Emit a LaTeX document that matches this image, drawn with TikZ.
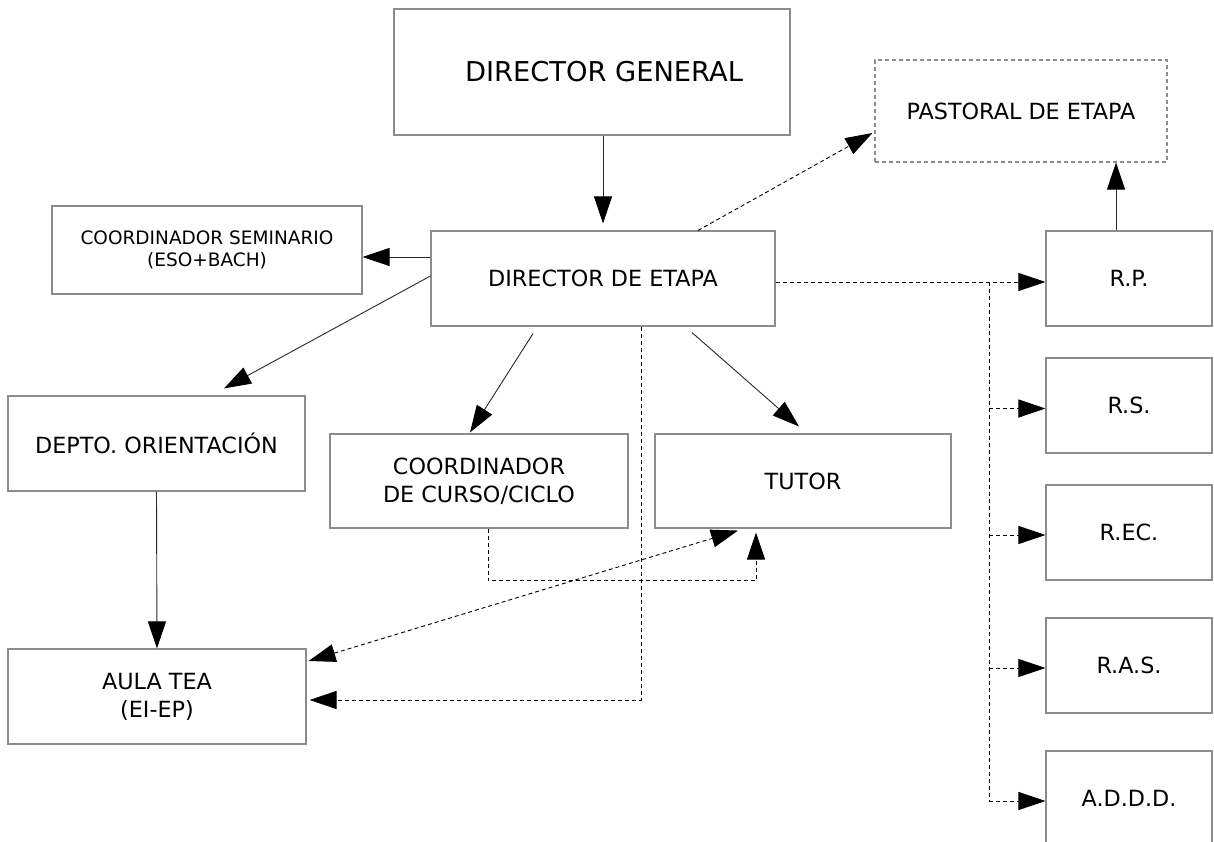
\documentclass[tikz,border=0pt]{standalone}
\usepackage{fontspec}
\setmainfont{DejaVu Sans}
\usetikzlibrary{arrows.meta,calc}
\definecolor{boxgray}{RGB}{140,140,140}
\definecolor{linegray}{RGB}{40,40,40}
\begin{document}
\begin{tikzpicture}[x=1pt,y=1pt,
  box/.style={draw=boxgray, line width=1.1pt, inner sep=0pt, align=center, font=\fontsize{22.3}{28}\selectfont},
  dbox/.style={box, dash pattern=on 4pt off 3pt},
  tip/.tip={Triangle[length=27pt,width=18pt,color=black]},
  arr/.style={draw=linegray, line width=0.9pt, -tip},
  darr/.style={draw=black, line width=0.9pt, dash pattern=on 4pt off 3pt, -tip},
  dline/.style={draw=black, line width=0.9pt, dash pattern=on 4pt off 3pt},
  rbox/.style={box, minimum width=166pt, minimum height=95pt}
  ]
\clip (0,0) rectangle (1214,841);
\fill[white] (0,0) rectangle (1214,841);

\node[box, minimum width=396pt, minimum height=126pt, font=\fontsize{27.3}{32}\selectfont] (dg) at (592,769) {\hspace*{24pt}DIRECTOR GENERAL};
\node[dbox, minimum width=292pt, minimum height=102pt] (past) at (1021,730) {PASTORAL DE ETAPA};
\node[box, minimum width=344pt, minimum height=95pt] (de) at (603,562.5) {DIRECTOR DE ETAPA};
\node[box, minimum width=310pt, minimum height=88pt, font=\fontsize{18.5}{21.5}\selectfont] (sem) at (207,591) {COORDINADOR SEMINARIO\\(ESO+BACH)};
\node[box, minimum width=297pt, minimum height=95pt] (dep) at (156.5,397.5) {DEPTO. ORIENTACIÓN};
\node[box, minimum width=298pt, minimum height=94pt] (coord) at (479,360) {COORDINADOR\\DE CURSO/CICLO};
\node[box, minimum width=296pt, minimum height=94pt] (tutor) at (803,360) {TUTOR};
\node[box, minimum width=298pt, minimum height=95pt] (aula) at (157,144.5) {AULA TEA\\(EI-EP)};

\node[rbox] (rp) at (1129,562.5) {R.P.};
\node[rbox] (rs) at (1129,435.5) {R.S.};
\node[rbox] (rec) at (1129,308.5) {R.EC.};
\node[rbox] (ras) at (1129,175.5) {R.A.S.};
\node[rbox] (addd) at (1129,42.5) {A.D.D.D.};

% solid connectors
\draw[arr] (dg.south -| de.north) -- ([yshift=7pt]de.north);
\coordinate (s1) at ([yshift=21.5pt]de.west);
\draw[arr] (s1) -- (s1 -| sem.east);
\draw[arr] ([yshift=2.5pt]de.west) -- ([shift={(67.5pt,7pt)}]dep.north);
\draw[arr] ([shift={(-70pt,-7pt)}]de.south) -- ([shift={(-9pt,1pt)}]coord.north);
\draw[arr] ([shift={(89pt,-6pt)}]de.south) -- ([shift={(-4pt,7pt)}]tutor.north);
\draw[arr] (dep.south) -- (aula.north);
\coordinate (p1) at ([xshift=-13pt]rp.north);
\draw[arr] (p1) -- (p1 |- past.south);

% dashed connectors
\draw[darr] ([xshift=95pt]de.north) -- ([shift={(-2pt,-22pt)}]past.west);
\draw[darr] ([xshift=38pt]de.south) |- ([shift={(3pt,-3.5pt)}]aula.east);
\draw[darr] ([xshift=9pt]coord.south) -- ++(0,-52) -| ([shift={(-47pt,-4pt)}]tutor.south);
\draw[dline, tip-tip] ([shift={(2pt,35.5pt)}]aula.east) -- ([shift={(-65pt,-2pt)}]tutor.south);

\draw[darr] ([yshift=-3.5pt]de.east) -- ([yshift=-3.5pt]rp.west);
\coordinate (trunk) at (989,559);
\coordinate (b4) at ([yshift=-2.5pt]addd.west);
\draw[dline] (trunk) -- (trunk |- b4);
\coordinate (b1) at ([yshift=-3pt]rs.west);
\coordinate (b2) at ([yshift=-2.5pt]rec.west);
\coordinate (b3) at ([yshift=-2.5pt]ras.west);
\draw[darr] (b1 -| trunk) -- (b1);
\draw[darr] (b2 -| trunk) -- (b2);
\draw[darr] (b3 -| trunk) -- (b3);
\draw[darr] (b4 -| trunk) -- (b4);
\end{tikzpicture}
\end{document}
